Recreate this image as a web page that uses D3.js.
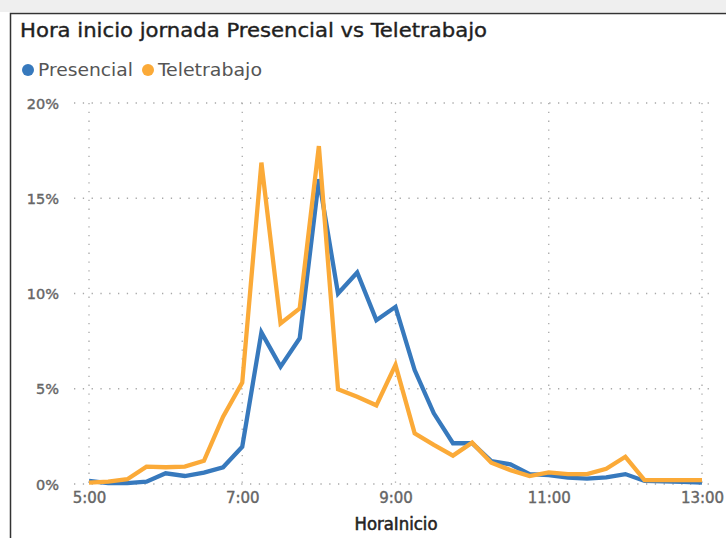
<!DOCTYPE html>
<html><head><meta charset="utf-8">
<script src="https://cdn.jsdelivr.net/npm/d3@7/dist/d3.min.js"></script>
<style>body{margin:0;background:#fff;overflow:hidden}svg{display:block}</style>
</head><body><svg id="c" width="726" height="538"></svg>
<script>
const times = ["5:00","5:15","5:30","5:45","6:00","6:15","6:30","6:45","7:00","7:15","7:30","7:45","8:00","8:15","8:30","8:45","9:00","9:15","9:30","9:45","10:00","10:15","10:30","10:45","11:00","11:15","11:30","11:45","12:00","12:15","12:30","12:45","13:00"];
const presencial = [0.17,0.05,0.05,0.12,0.56,0.42,0.6,0.88,1.96,7.96,6.16,7.65,16.0,10.0,11.1,8.6,9.3,5.98,3.71,2.14,2.14,1.2,1.03,0.52,0.47,0.33,0.28,0.35,0.52,0.16,0.14,0.11,0.08];
const teletrabajo = [0.07,0.12,0.25,0.91,0.88,0.91,1.22,3.53,5.32,16.87,8.43,9.22,17.74,4.97,4.58,4.13,6.25,2.66,2.05,1.49,2.17,1.12,0.73,0.42,0.61,0.52,0.52,0.8,1.43,0.21,0.2,0.2,0.2];
const yTicks = [0,5,10,15,20];
const xTickLabels = ["5:00","7:00","9:00","11:00","13:00"];
const seriesNames = ["Presencial","Teletrabajo"];
const colors = ["#3779bd","#fbaa38"];

const svg = d3.select("#c");
const toMin = t => { const [h,m] = t.split(":").map(Number); return h*60+m; };
const condensed = "'DejaVu Sans Condensed','Liberation Sans Narrow',sans-serif";

// frame
svg.append("rect").attr("x",0).attr("y",0).attr("width",726).attr("height",12).attr("fill","#efefef");
svg.append("path").attr("d","M10.5,538 V13.5 H726").attr("fill","none").attr("stroke","#333").attr("stroke-width",1.5);

// title
svg.append("text").attr("x",20).attr("y",37).text("Hora inicio jornada Presencial vs Teletrabajo")
  .attr("font-family",condensed).attr("font-size",19.5).attr("fill","#1f1f1f")
  .attr("stroke","#1f1f1f").attr("stroke-width",0.35)
  .attr("textLength",467).attr("lengthAdjust","spacingAndGlyphs");

// legend
const lg = svg.append("g");
const legX = [28,148];
seriesNames.forEach((n,i)=>{
  lg.append("circle").attr("cx",legX[i]).attr("cy",70).attr("r",6).attr("fill",colors[i]);
  lg.append("text").attr("x",legX[i]+10).attr("y",76).text(n)
    .attr("font-family",condensed).attr("font-size",17).attr("fill","#555")
    .attr("textLength", i===0?95:104).attr("lengthAdjust","spacingAndGlyphs");
});

const x = d3.scaleLinear().domain([toMin("5:00"),toMin("13:00")]).range([89,702]);
const y = d3.scaleLinear().domain([0,20]).range([484,103]);

// grid
const grid = svg.append("g").attr("stroke","#a8a8a8").attr("stroke-width",1.3).attr("stroke-dasharray","1.3,7.5");
yTicks.forEach(v=>{
  grid.append("line").attr("x1",74).attr("x2",712).attr("y1",y(v)).attr("y2",y(v));
});
xTickLabels.forEach(t=>{
  grid.append("line").attr("x1",x(toMin(t))).attr("x2",x(toMin(t))).attr("y1",y(20)).attr("y2",y(0)+4);
});

// y axis
const ya = svg.append("g").attr("transform","translate(63,0)")
  .call(d3.axisLeft(y).tickValues(yTicks).tickFormat(d=>d+"%").tickSize(0).tickPadding(4));
ya.select(".domain").remove();
ya.selectAll("text").attr("font-family","'DejaVu Sans',sans-serif").attr("font-size",14.5).attr("fill","#666")
  .attr("stroke","#666").attr("stroke-width",0.4).attr("dy","0.35em");

// x axis
const xa = svg.append("g").attr("transform","translate(0,490)")
  .call(d3.axisBottom(x).tickValues(xTickLabels.map(toMin)).tickFormat((d,i)=>xTickLabels[i]).tickSize(0).tickPadding(2));
xa.select(".domain").remove();
xa.selectAll("text").attr("font-family","'DejaVu Sans',sans-serif").attr("font-size",15).attr("fill","#666")
  .attr("stroke","#666").attr("stroke-width",0.4);

svg.append("text").attr("x",396).attr("y",530).attr("text-anchor","middle").text("HoraInicio")
  .attr("font-family",condensed).attr("font-size",17).attr("fill","#252423")
  .attr("stroke","#252423").attr("stroke-width",0.5)
  .attr("textLength",83).attr("lengthAdjust","spacingAndGlyphs");

// lines
const line = d3.line().x((d,i)=>x(toMin(times[i]))).y(d=>y(d));
[presencial,teletrabajo].forEach((s,i)=>{
  svg.append("path").datum(s).attr("d",line).attr("fill","none").attr("stroke",colors[i])
    .attr("stroke-width",4.3).attr("stroke-linejoin","miter").attr("stroke-linecap","butt");
});
</script></body></html>
